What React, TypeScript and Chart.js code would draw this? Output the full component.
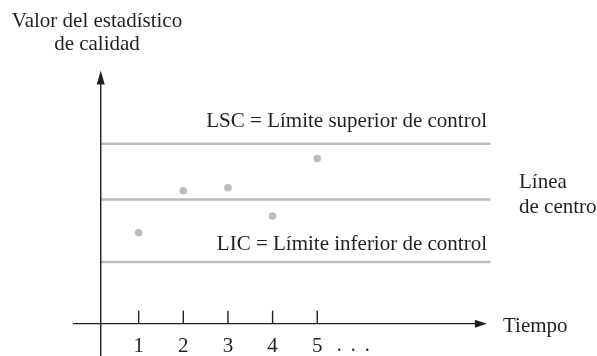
import React, { useEffect, useRef } from "react";
import Chart from "chart.js/auto";

const samples = [1, 2, 3, 4, 5];
const sampleValues = [16.6, 20.9, 21.2, 18.3, 24.2];
const tickLabels = ["1", "2", "3", "4", "5"];
const LSC = 25.7;
const CENTER = 20;
const LIC = 13.6;
const AXIS_Y = 7.3;
const AXIS_X = 0.15;
const LINE_END = 8.88;
const XAXIS_START = -0.47;
const XAXIS_END = 8.8;
const YAXIS_TOP = 33.2;

const FONT = '21px "Liberation Serif", "Times New Roman", serif';
const INK = "#231f20";
const GRAY = "#bcbcbc";

export default function App() {
  const ref = useRef<HTMLCanvasElement | null>(null);
  useEffect(() => {
    if (!ref.current) return;
    const hline = (v: number) => [
      { x: AXIS_X, y: v },
      { x: LINE_END, y: v },
    ];
    const overlay = {
      id: "overlay",
      afterDraw(chart: any) {
        const ctx = chart.ctx;
        const xs = chart.scales.x;
        const ys = chart.scales.y;
        const ax = xs.getPixelForValue(AXIS_X);
        const ay = ys.getPixelForValue(AXIS_Y);
        ctx.save();
        ctx.strokeStyle = INK;
        ctx.fillStyle = INK;
        ctx.lineWidth = 1.4;
        // y axis
        const yTop = ys.getPixelForValue(YAXIS_TOP);
        ctx.beginPath();
        ctx.moveTo(ax, chart.height);
        ctx.lineTo(ax, yTop + 10);
        ctx.stroke();
        ctx.beginPath();
        ctx.moveTo(ax, yTop);
        ctx.lineTo(ax - 4, yTop + 14);
        ctx.lineTo(ax + 4, yTop + 14);
        ctx.closePath();
        ctx.fill();
        // x axis
        const xStart = xs.getPixelForValue(XAXIS_START);
        const xEnd = xs.getPixelForValue(XAXIS_END);
        ctx.beginPath();
        ctx.moveTo(xStart, ay);
        ctx.lineTo(xEnd - 8, ay);
        ctx.stroke();
        ctx.beginPath();
        ctx.moveTo(xEnd, ay);
        ctx.lineTo(xEnd - 12, ay - 4);
        ctx.lineTo(xEnd - 12, ay + 4);
        ctx.closePath();
        ctx.fill();
        // ticks + labels
        ctx.font = FONT;
        ctx.textAlign = "center";
        ctx.textBaseline = "alphabetic";
        samples.forEach((s, i) => {
          const px = xs.getPixelForValue(s);
          ctx.beginPath();
          ctx.moveTo(px, ay - 13);
          ctx.lineTo(px, ay);
          ctx.stroke();
          ctx.fillText(tickLabels[i], px, ay + 28);
        });
        // dots
        const p5 = xs.getPixelForValue(samples[samples.length - 1]);
        [22, 36, 50].forEach((d) => {
          ctx.beginPath();
          ctx.arc(p5 + d, ay + 26, 1.2, 0, Math.PI * 2);
          ctx.fill();
        });
        // texts
        ctx.textAlign = "center";
        ctx.fillText("Valor del estadístico", 97, 27);
        ctx.fillText("de calidad", 97, 50);
        ctx.textAlign = "right";
        ctx.fillText("LSC = Límite superior de control", 487, ys.getPixelForValue(LSC) - 17);
        ctx.fillText("LIC = Límite inferior de control", 487, ys.getPixelForValue(LIC) - 12);
        ctx.textAlign = "left";
        ctx.fillText("Línea", 519, 188);
        ctx.fillText("de centro", 519, 213);
        ctx.fillText("Tiempo", 503, ay + 8);
        ctx.restore();
      },
    };
    const lineDs = (v: number) => ({
      type: "line" as const,
      data: hline(v),
      borderColor: GRAY,
      borderWidth: 2.4,
      pointRadius: 0,
      showLine: true,
    });
    const chart = new Chart(ref.current, {
      type: "scatter",
      data: {
        datasets: [
          {
            data: samples.map((s, i) => ({ x: s, y: sampleValues[i] })),
            backgroundColor: GRAY,
            borderColor: GRAY,
            pointRadius: 3.8,
            borderWidth: 0,
          },
          lineDs(LSC) as any,
          lineDs(CENTER) as any,
          lineDs(LIC) as any,
        ],
      },
      options: {
        animation: false,
        responsive: false,
        layout: { padding: 0 },
        plugins: { legend: { display: false }, tooltip: { enabled: false } },
        scales: {
          x: { type: "linear", display: false, min: -2.0166, max: 11.177 },
          y: { type: "linear", display: false, min: 4.4, max: 40 },
        },
      },
      plugins: [overlay],
    });
    return () => chart.destroy();
  }, []);
  return (
    <div style={{ position: "absolute", left: 0, top: 0, width: 597, height: 356, background: "#fff" }}>
      <canvas ref={ref} width={597} height={356} />
    </div>
  );
}
